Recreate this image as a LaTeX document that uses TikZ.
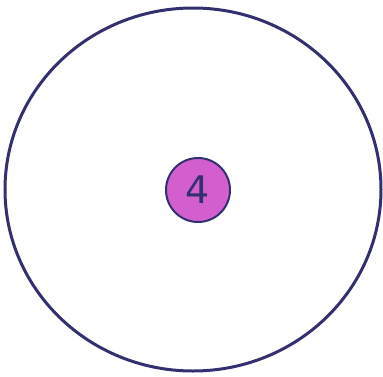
\documentclass[tikz,border=0pt]{standalone}
\usepackage{fontspec}
\setsansfont{DejaVu Sans}
\usepackage{tikz}
\usepackage{xcolor}
\usetikzlibrary{shapes.geometric, positioning}
\definecolor{inkblue}{HTML}{33306F}
\definecolor{orchid}{HTML}{D35FCF}
\tikzset{
  every outer/.style={
    draw=inkblue, ellipse, line width=3pt,
    inner sep=0pt
  },
  token/.style={
    draw=inkblue, circle, line width=2pt,
    fill=orchid, text=inkblue, inner sep=0pt,
    minimum size=64pt, font=\sffamily\fontsize{38}{38}\selectfont
  },
}

\begin{document}
\begin{tikzpicture}[x=1pt, y=-1pt]
  \useasboundingbox (0,0) rectangle (383,376);
  \node[every outer, minimum width=376pt, minimum height=363pt]
                        (region) at (193,189.5) {};
  \node[token] (count) at (198,190) {4};
\end{tikzpicture}
\end{document}
